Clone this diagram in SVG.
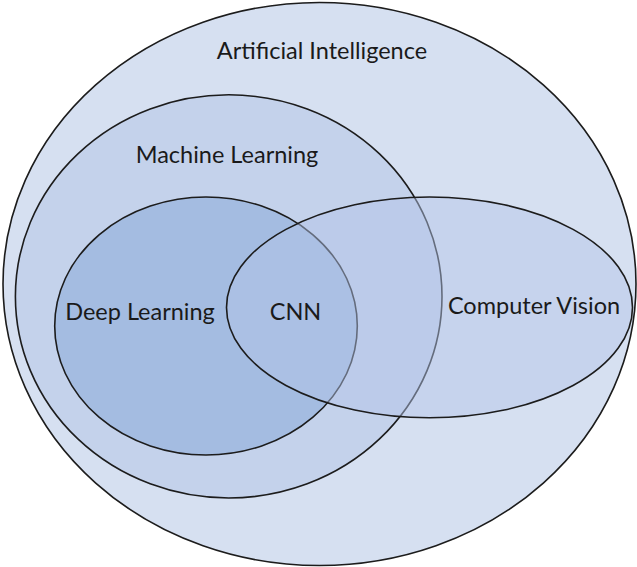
<svg xmlns="http://www.w3.org/2000/svg" width="637" height="567" viewBox="0 0 637 567">
<style>
.set{stroke:#1c1c1c;stroke-width:1.6}
.lbl{font-family:Lato,"Open Sans",sans-serif;font-size:23.5px;fill:#1a1a1a;text-anchor:middle}
</style>
<rect width="637" height="567" fill="#ffffff"/>
<g id="ai">
<ellipse class="set" cx="319.5" cy="284" rx="316.5" ry="281.5" fill="#d6e0f1"/>
<text class="lbl" x="322" y="59">Artificial Intelligence</text>
</g>
<g id="ml">
<ellipse class="set" cx="228.7" cy="296.4" rx="213.3" ry="201.6" fill="#c4d2eb"/>
<text class="lbl" x="227" y="163">Machine Learning</text>
</g>
<g id="dl">
<ellipse class="set" cx="206" cy="326" rx="151.3" ry="129" fill="#a4bce1"/>
<text class="lbl" x="140" y="320">Deep Learning</text>
</g>
<g id="cv">
<ellipse cx="429.5" cy="307.4" rx="203" ry="110.4" fill="#b3c5e7" fill-opacity="0.48" stroke="#1c1c1c" stroke-width="1.6"/>
<text class="lbl" x="534" y="314">Computer Vision</text>
</g>
<g id="cnn">
<text class="lbl" x="295.5" y="320">CNN</text>
</g>
<g id="connectors"/>
</svg>
